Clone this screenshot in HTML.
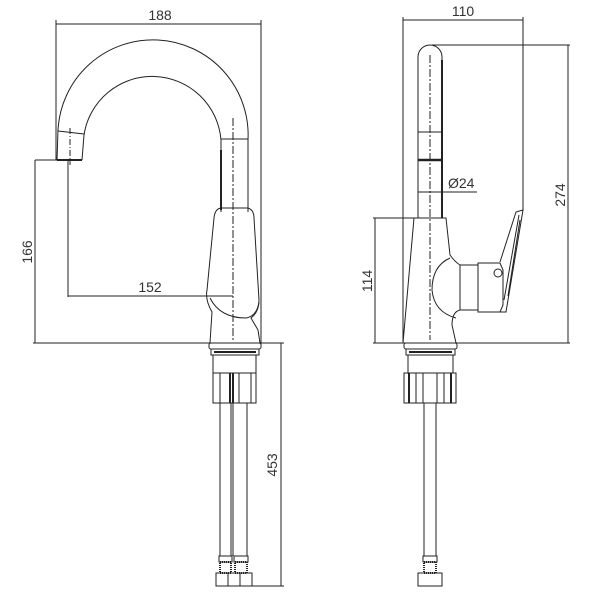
<!DOCTYPE html>
<html><head><style>
html,body{margin:0;padding:0;background:#fff;}
svg{display:block;}
text{font-family:"Liberation Sans",sans-serif;font-size:14px;fill:#333;}
</style></head><body>
<svg width="600" height="600" viewBox="0 0 600 600" xmlns="http://www.w3.org/2000/svg">
<g fill="none" stroke="#222" stroke-width="1">
<line x1="56" y1="24" x2="261" y2="24"/>
<line x1="56" y1="20" x2="56" y2="160"/>
<line x1="261" y1="20" x2="261" y2="345"/>
<line x1="35" y1="160" x2="72" y2="160"/>
<line x1="35" y1="160" x2="35" y2="343"/>
<line x1="33" y1="343" x2="261" y2="343"/>
<line x1="68" y1="160" x2="68" y2="297"/>
<line x1="68" y1="296" x2="233" y2="296"/>
<path d="M57,160 L58,130 A95,95 0 0 1 248,140 L248,212"/>
<path d="M82,160 L84,135 A69,69 0 0 1 221,140 L221,212"/>
<line x1="57" y1="160" x2="82" y2="160" stroke-width="2"/>
<line x1="58" y1="131" x2="84" y2="134"/>
<line x1="221" y1="139" x2="248" y2="139"/>
<line x1="70" y1="128" x2="70" y2="165" stroke-dasharray="6,2,1,2"/>
<line x1="233" y1="118" x2="233" y2="340" stroke-dasharray="8,2,2,2"/>
<line x1="221" y1="150" x2="221" y2="210" stroke-width="2"/>
<path d="M222,208 L248,208 Q254,210 254,218 L259,300 Q259,312 251,318 L258,330 L260,343 L210,343 L212,312 Q205,300 207,290 L214,218 Q215,208 222,208 Z"/>
<path d="M210,298 Q220,318 246,318 Q257,316 259,302"/>
<rect x="209" y="343" width="52" height="6" rx="2"/>
<rect x="211" y="349" width="48" height="6"/>
<line x1="214" y1="352" x2="256" y2="352" stroke-width="2"/>
<rect x="213" y="355" width="43" height="18"/>
<rect x="213" y="373" width="43" height="30"/>
<line x1="220" y1="373" x2="220" y2="403"/><line x1="230" y1="373" x2="230" y2="403" stroke-width="2"/>
<line x1="233" y1="373" x2="233" y2="403" stroke-width="2"/><line x1="239" y1="373" x2="239" y2="403"/><line x1="251" y1="373" x2="251" y2="403"/>
<line x1="220" y1="403" x2="220" y2="556"/><line x1="231" y1="403" x2="231" y2="556"/>
<line x1="233" y1="403" x2="233" y2="556"/><line x1="247" y1="403" x2="247" y2="556"/>
<rect x="219" y="556" width="13" height="6"/><rect x="234" y="556" width="14" height="6"/>
<rect x="220" y="562" width="11" height="11" stroke-dasharray="1,1" stroke-width="2"/>
<rect x="235" y="562" width="12" height="11" stroke-dasharray="1,1" stroke-width="2"/>
<rect x="216" y="573" width="12" height="13"/><rect x="228" y="573" width="12" height="13"/><rect x="240" y="573" width="12" height="13"/>
<line x1="261" y1="343" x2="284" y2="343"/>
<line x1="250" y1="586" x2="284" y2="586"/>
<line x1="281" y1="343" x2="281" y2="586"/>
<line x1="403" y1="20" x2="523" y2="20"/>
<line x1="403" y1="17" x2="403" y2="343"/>
<line x1="523" y1="17" x2="523" y2="210"/>
<line x1="432" y1="45" x2="570" y2="45"/>
<line x1="568" y1="45" x2="568" y2="343"/>
<line x1="373" y1="218" x2="415" y2="218"/>
<line x1="375" y1="218" x2="375" y2="343"/>
<line x1="373" y1="343" x2="570" y2="343"/>
<path d="M418,218 L418,57 A12,12 0 0 1 442,57 L442,218"/>
<line x1="442" y1="60" x2="442" y2="218" stroke-width="2"/>
<line x1="430" y1="55" x2="430" y2="340" stroke-dasharray="8,2,2,2"/>
<line x1="418" y1="132" x2="442" y2="132"/>
<line x1="418" y1="160" x2="442" y2="160" stroke-width="2.5"/>
<line x1="418" y1="192" x2="477" y2="192"/>
<path d="M414,218 L446,218 L450,255 Q455,262 460,265 L460,310 Q452,312 452,325 L456,343 L403,343 L414,218 Z"/>
<path d="M450,258 Q432,266 432,290 Q434,312 456,318"/>
<rect x="460" y="265" width="18" height="45"/>
<path d="M478,263 L500,263 L503,270 L503,305 L500,312 L478,312 Z"/>
<path d="M500,312 L506,312 L523,210 L516,212 L500,262"/>
<path d="M504,300 L519,215 M508,296 L520,220"/>
<circle cx="498" cy="273" r="4"/>
<rect x="404" y="343" width="53" height="6" rx="2"/>
<rect x="406" y="349" width="49" height="6"/>
<line x1="409" y1="352" x2="452" y2="352" stroke-width="2"/>
<rect x="408" y="355" width="45" height="18"/>
<rect x="404" y="373" width="52" height="30"/>
<line x1="409" y1="373" x2="409" y2="403" stroke-width="2"/><line x1="416" y1="373" x2="416" y2="403"/>
<line x1="423" y1="373" x2="423" y2="403"/><line x1="437" y1="373" x2="437" y2="403"/>
<line x1="444" y1="373" x2="444" y2="403"/><line x1="451" y1="373" x2="451" y2="403" stroke-width="2"/>
<line x1="424" y1="403" x2="424" y2="556"/><line x1="436" y1="403" x2="436" y2="556"/>
<rect x="423" y="556" width="14" height="6"/>
<rect x="424" y="562" width="12" height="11" stroke-dasharray="1,1" stroke-width="2"/>
<rect x="418" y="573" width="24" height="13"/>
</g>
<text x="160" y="20" text-anchor="middle">188</text>
<text x="150" y="292" text-anchor="middle">152</text>
<text x="463" y="16" text-anchor="middle">110</text>
<text x="448" y="188">Ø24</text>
<text transform="translate(32,252) rotate(-90)" text-anchor="middle">166</text>
<text transform="translate(277,465) rotate(-90)" text-anchor="middle">453</text>
<text transform="translate(372,281) rotate(-90)" text-anchor="middle">114</text>
<text transform="translate(565,195) rotate(-90)" text-anchor="middle">274</text>
</svg>
</body></html>
